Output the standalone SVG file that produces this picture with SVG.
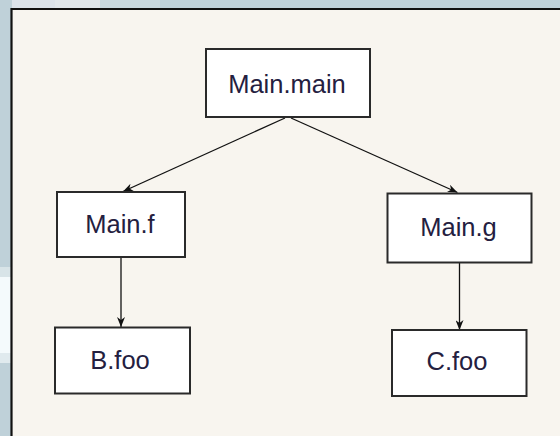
<svg xmlns="http://www.w3.org/2000/svg" width="560" height="436" viewBox="0 0 560 436">
<style>
.box{fill:#ffffff;stroke:#2a2a2a;stroke-width:2}
.lbl{font-family:"Liberation Sans",Arial,sans-serif;font-size:25.5px;fill:#24203f;text-anchor:middle}
.edge{stroke:#111111;stroke-width:1.3;fill:none;marker-end:url(#arr)}
</style>
<defs>
<marker id="arr" viewBox="0 0 10 8" refX="10" refY="4" markerWidth="10" markerHeight="8" markerUnits="userSpaceOnUse" orient="auto">
<path d="M0,0 L10,4 L0,8 L3,4 Z" fill="#111111"/>
</marker>
</defs>
<rect x="0" y="0" width="560" height="436" fill="#bfd1d9"/>
<rect x="12" y="0" width="43" height="8" fill="#dce3ea"/>
<rect x="55" y="0" width="45" height="8" fill="#e1e7eb"/>
<rect x="100" y="0" width="60" height="8" fill="#c9d8de"/>
<rect x="0" y="267" width="11" height="10" fill="#d8e4e8"/>
<rect x="0" y="277" width="11" height="76" fill="#f4fafc"/>
<rect x="0" y="353" width="11" height="10" fill="#e0eaee"/>
<rect x="11" y="8" width="549" height="428" fill="#f8f5ef"/>
<path d="M11.5,436 V9 H560" fill="none" stroke="#111111" stroke-width="2.2"/>
<g id="connectors">
<line class="edge" x1="285" y1="118" x2="123" y2="191.5"/>
<line class="edge" x1="291" y1="118" x2="457.5" y2="192.5"/>
<line class="edge" x1="121" y1="257" x2="121" y2="327"/>
<line class="edge" x1="459.5" y1="263" x2="459.5" y2="330"/>
</g>
<g id="main_main">
<rect class="box" x="206" y="49" width="164" height="68"/>
<text class="lbl" x="287" y="92.5">Main.main</text>
</g>
<g id="main_f">
<rect class="box" x="57" y="192" width="128" height="65"/>
<text class="lbl" x="120" y="232.5">Main.f</text>
</g>
<g id="main_g">
<rect class="box" x="387.5" y="193.5" width="144" height="69"/>
<text class="lbl" x="458.5" y="236">Main.g</text>
</g>
<g id="b_foo">
<rect class="box" x="55" y="327.5" width="135" height="66"/>
<text class="lbl" x="120" y="368.5">B.foo</text>
</g>
<g id="c_foo">
<rect class="box" x="392" y="330" width="134.5" height="66"/>
<text class="lbl" x="457" y="370">C.foo</text>
</g>
</svg>
